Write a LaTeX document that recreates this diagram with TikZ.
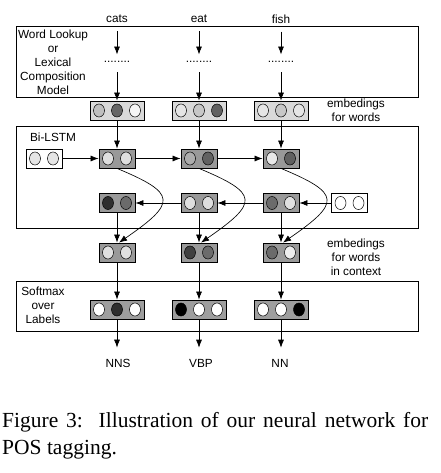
\documentclass[tikz,border=0pt]{standalone}
\usepackage{fontspec}
\setmainfont{Liberation Serif}
\setsansfont{Liberation Sans}
\usetikzlibrary{calc,arrows.meta}

\tikzset{
  cellframe/.style={draw, line width=0.8, minimum height=19, inner sep=0},
  layer/.style={draw, line width=0.9},
  flow/.style={line width=0.7, -{Latex[length=8,width=6]}},
  swing/.style={line width=0.65, -{Latex[length=8,width=6]}},
  lbl/.style={font=\sffamily\fontsize{11.8}{14}\selectfont, align=center, inner sep=0},
}

% #1 name, #2 centre, #3 number of cells, #4 box fill, #5 cell fills
\newcommand{\cellbox}[5]{%
  \node[cellframe, fill=#4, minimum width=18*#3] (#1) at (#2) {};
  \foreach \f [count=\i] in {#5}
    \draw[line width=0.5, fill=\f] ($(#1.center)+({18*\i-9*#3-9},0)$) ellipse (5.5 and 6.5);
}

\begin{document}
\begin{tikzpicture}[x=1pt,y=-1pt]
	\useasboundingbox (0,0) rectangle (440,473);
	% the three layers
	\draw[layer] (16,26) rectangle (418,97);
	\draw[layer] (16,126) rectangle (418,228);
	\draw[layer] (16,281) rectangle (418,331);
	\node[lbl] (lookup) at (53,62) {Word Lookup\\or\\Lexical\\Composition\\Model};
	\node[lbl] (bilstm) at (53,137) {Bi-LSTM};
	\node[lbl] (softmax) at (43,305) {Softmax\\over\\Labels};
	\node[lbl] (embw) at (356,110.5) {embedings\\for words};
	\node[lbl] (embc) at (356,257.5) {embedings\\for words\\in context};
	% input words
	\node[lbl] (w1) at (117,19) {cats};
	\node[lbl] (w2) at (199,19) {eat};
	\node[lbl] (w3) at (281,19) {fish};
	\node[lbl, anchor=base] (d1) at (117,63) {........};
	\node[lbl, anchor=base] (d2) at (199,63) {........};
	\node[lbl, anchor=base] (d3) at (281,63) {........};
	% embeddings for words
	\cellbox{e1}{117,110.5}{3}{black!15}{black!25,black!60,black!4}
	\cellbox{e2}{199,110.5}{3}{black!15}{black!10,black!22,black!62}
	\cellbox{e3}{281,110.5}{3}{black!15}{black!10,black!22,black!10}
	% forward lstm
	\cellbox{fi}{44,158.5}{2}{white}{black!10,black!10}
	\cellbox{f1}{117,158.5}{2}{black!40}{black!13,black!13}
	\cellbox{f2}{199,158.5}{2}{black!40}{black!32,black!62}
	\cellbox{f3}{281,158.5}{2}{black!40}{black!9,black!62}
	% backward lstm
	\cellbox{b1}{117,203}{2}{black!40}{black!82,black!58}
	\cellbox{b2}{199,203}{2}{black!40}{black!13,black!13}
	\cellbox{b3}{281,203}{2}{black!40}{black!58,black!12}
	\cellbox{bi}{349.5,203}{2}{white}{white,white}
	% embeddings for words in context
	\cellbox{c1}{117,252.5}{2}{black!40}{black!12,black!12}
	\cellbox{c2}{199,252.5}{2}{black!40}{black!75,black!58}
	\cellbox{c3}{281,252.5}{2}{black!40}{black!58,black!7}
	% softmax
	\cellbox{s1}{117,309.5}{3}{black!38}{white,black!82,white}
	\cellbox{s2}{199,309.5}{3}{black!38}{black,white,white}
	\cellbox{s3}{281,309.5}{3}{black!38}{white,white,black}
	\node[lbl] (t1) at (118,363) {NNS};
	\node[lbl] (t2) at (201,363) {VBP};
	\node[lbl] (t3) at (280,363) {NN};
	% connectors
	\foreach \k in {1,2,3} {
		\draw[flow, shorten <=8, shorten >=7] (w\k.south) -- (d\k.north);
		\draw[flow, shorten <=9] (d\k.south) -- (e\k.north);
		\draw[flow] (e\k.south) -- (f\k.north);
		\draw[flow] (b\k.south) -- (c\k.north);
		\draw[flow] (c\k.south) -- (s\k.north);
		\draw[flow, shorten >=11] (s\k.south) -- (s\k.south |- t\k.north);
		\draw[swing] (f\k.south) .. controls ($(f\k.south)+(60,25)$) and ($(c\k.north)+(60,-40)$) .. ([xshift=2pt]c\k.north);
	}
	\draw[flow] (fi.east) -- (f1.west);
	\draw[flow] (f1.east) -- (f2.west);
	\draw[flow] (f2.east) -- (f3.west);
	\draw[flow] (bi.west) -- (b3.east);
	\draw[flow] (b3.west) -- (b2.east);
	\draw[flow] (b2.west) -- (b1.east);
	% caption
	\node[anchor=north west, text width=426, align=justify, inner sep=0, font=\fontsize{21.5}{27}\selectfont] (caption) at (2,412) {Figure 3:\ \ Illustration of our neural network for\linebreak POS tagging.};
\end{tikzpicture}
\end{document}
